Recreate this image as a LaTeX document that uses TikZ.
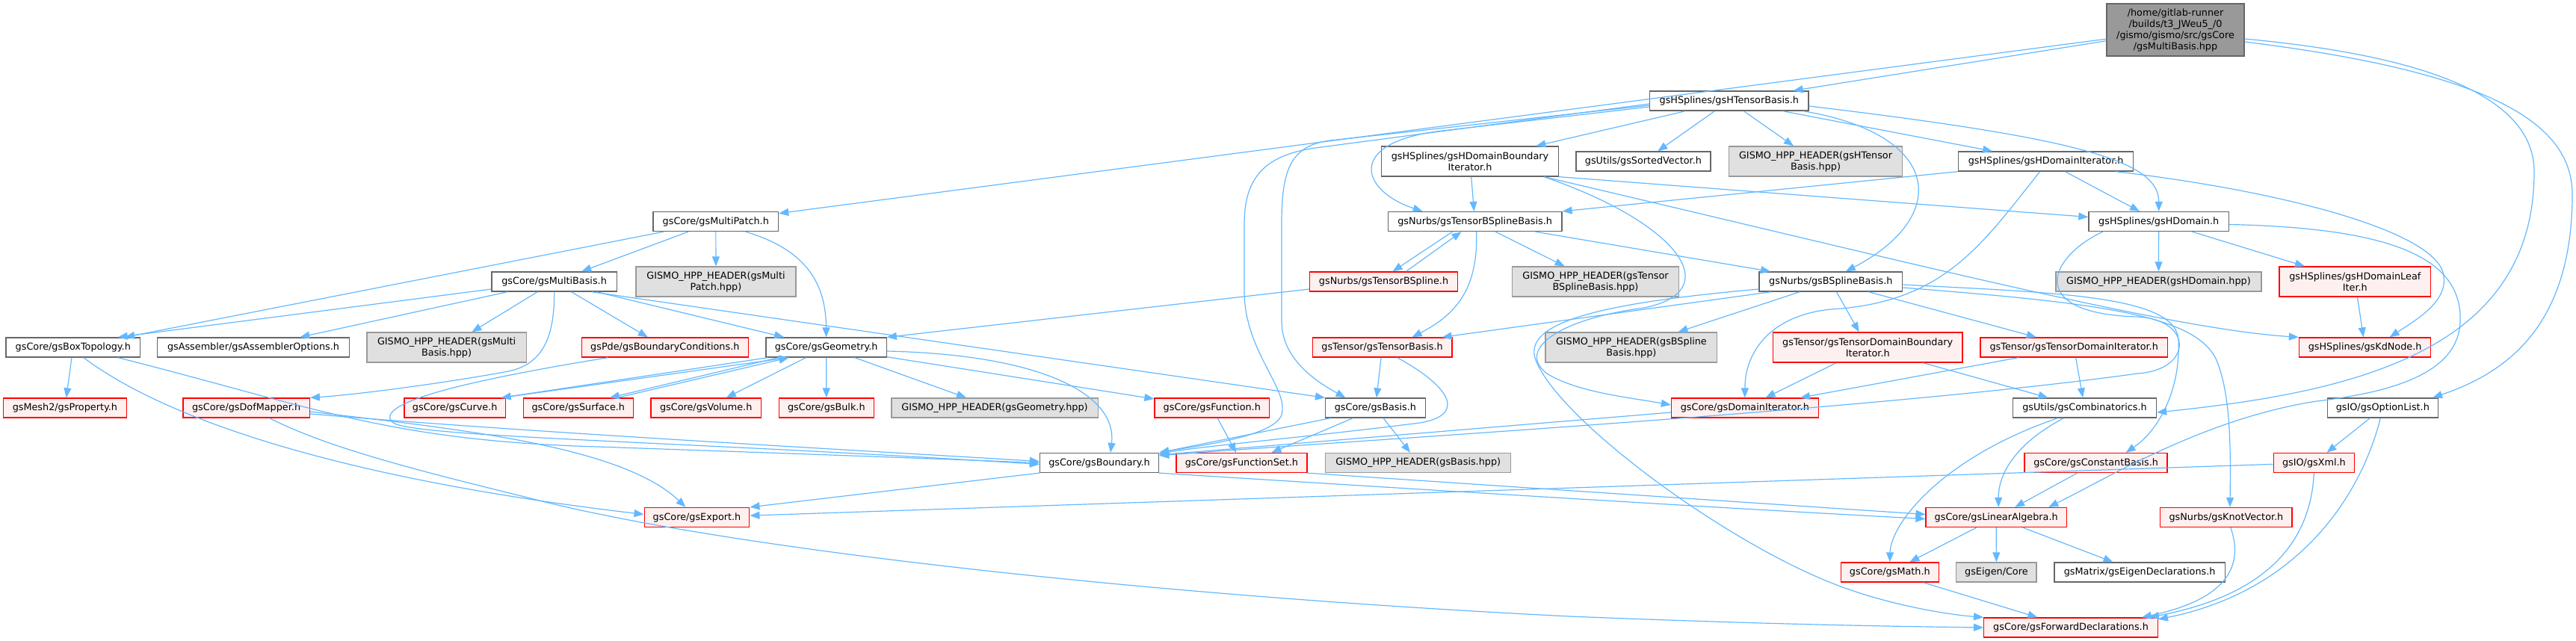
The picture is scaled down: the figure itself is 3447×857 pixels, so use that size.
\documentclass[tikz,border=0pt]{standalone}
\usepackage{fontspec}
\setmainfont{DejaVu Sans}
\usetikzlibrary{arrows.meta}
\definecolor{edgec}{HTML}{63B8FF}
\definecolor{bgray}{HTML}{666666}
\definecolor{lgray}{HTML}{999999}
\definecolor{hfill}{HTML}{E0E0E0}
\definecolor{rfill}{HTML}{FFF0F0}
\definecolor{rborder}{HTML}{FF0000}
\tikzset{
  base/.style={rectangle, inner sep=0pt, align=center, line width=1.3pt,
    font=\fontsize{12.8}{15}\selectfont},
  nnode/.style={base, draw=bgray, fill=white},
  rnode/.style={base, draw=rborder, fill=rfill},
  gnode/.style={base, draw=lgray, fill=hfill},
  rootnode/.style={base, draw=bgray, fill=lgray},
  lnk/.style={draw=edgec, line width=1.2pt, -{Triangle[length=13pt,width=10pt]}}
}
\begin{document}
\begin{tikzpicture}[x=1pt,y=-1pt]
\useasboundingbox (0,0) rectangle (3447,857);
% nodes
\node[rootnode, minimum width=184pt, minimum height=70pt] (root) at (2911,40) {/home/gitlab-runner\\/builds/t3\_JWeu5\_/0\\/gismo/gismo/src/gsCore\\/gsMultiBasis.hpp};
\node[nnode, minimum width=212.5pt, minimum height=26pt] (htb) at (2313.8,135) {gsHSplines/gsHTensorBasis.h};
\node[nnode, minimum width=236.7pt, minimum height=40pt] (hdbi) at (1967,216) {gsHSplines/gsHDomainBoundary\\Iterator.h};
\node[nnode, minimum width=180pt, minimum height=26pt] (sortv) at (2198.9,216) {gsUtils/gsSortedVector.h};
\node[gnode, minimum width=232.3pt, minimum height=40pt] (htbhpp) at (2429.5,216) {GISMO\_HPP\_HEADER(gsHTensor\\Basis.hpp)};
\node[nnode, minimum width=233.8pt, minimum height=26pt] (hdi) at (2737.6,216) {gsHSplines/gsHDomainIterator.h};
\node[nnode, minimum width=167.6pt, minimum height=26pt] (mp) at (957.8,296.5) {gsCore/gsMultiPatch.h};
\node[nnode, minimum width=232.7pt, minimum height=26pt] (tbsb) at (1973.6,296.5) {gsNurbs/gsTensorBSplineBasis.h};
\node[nnode, minimum width=187.5pt, minimum height=26pt] (hdom) at (2888.7,296.5) {gsHSplines/gsHDomain.h};
\node[nnode, minimum width=167.2pt, minimum height=26pt] (mb) at (741.6,377) {gsCore/gsMultiBasis.h};
\node[gnode, minimum width=213.8pt, minimum height=40pt] (mphpp) at (958,377) {GISMO\_HPP\_HEADER(gsMulti\\Patch.hpp)};
\node[rnode, minimum width=197.9pt, minimum height=26pt] (tbs) at (1851.5,377) {gsNurbs/gsTensorBSpline.h};
\node[gnode, minimum width=222.7pt, minimum height=40pt] (tbsbhpp) at (2135,377) {GISMO\_HPP\_HEADER(gsTensor\\BSplineBasis.hpp)};
\node[nnode, minimum width=191.6pt, minimum height=26pt] (bsb) at (2449.8,377) {gsNurbs/gsBSplineBasis.h};
\node[gnode, minimum width=274.9pt, minimum height=26pt] (hdomhpp) at (2888.4,377) {GISMO\_HPP\_HEADER(gsHDomain.hpp)};
\node[rnode, minimum width=202.9pt, minimum height=40pt] (leaf) at (3151.3,377) {gsHSplines/gsHDomainLeaf\\Iter.h};
\node[nnode, minimum width=179.4pt, minimum height=26pt] (boxt) at (97.8,465) {gsCore/gsBoxTopology.h};
\node[nnode, minimum width=256.4pt, minimum height=26pt] (asm) at (339,465) {gsAssembler/gsAssemblerOptions.h};
\node[gnode, minimum width=213.4pt, minimum height=40pt] (mbhpp) at (597.6,465) {GISMO\_HPP\_HEADER(gsMulti\\Basis.hpp)};
\node[rnode, minimum width=223pt, minimum height=26pt] (bc) at (889.8,465) {gsPde/gsBoundaryConditions.h};
\node[nnode, minimum width=161.2pt, minimum height=26pt] (geo) at (1105.6,465) {gsCore/gsGeometry.h};
\node[rnode, minimum width=186.8pt, minimum height=26pt] (tb) at (1849.6,465) {gsTensor/gsTensorBasis.h};
\node[gnode, minimum width=229.8pt, minimum height=40pt] (bsbhpp) at (2182.9,465) {GISMO\_HPP\_HEADER(gsBSpline\\Basis.hpp)};
\node[rnode, minimum width=253.4pt, minimum height=40pt] (tdbi) at (2499.2,465) {gsTensor/gsTensorDomainBoundary\\Iterator.h};
\node[rnode, minimum width=250.5pt, minimum height=26pt] (tdi) at (2775.2,465) {gsTensor/gsTensorDomainIterator.h};
\node[rnode, minimum width=176.3pt, minimum height=26pt] (kd) at (3164.6,465) {gsHSplines/gsKdNode.h};
\node[rnode, minimum width=165pt, minimum height=26pt] (prop) at (86.9,546) {gsMesh2/gsProperty.h};
\node[rnode, minimum width=169.4pt, minimum height=26pt] (dof) at (329.6,546) {gsCore/gsDofMapper.h};
\node[rnode, minimum width=135.7pt, minimum height=26pt] (curve) at (608.7,546) {gsCore/gsCurve.h};
\node[rnode, minimum width=147.2pt, minimum height=26pt] (surf) at (773.8,546) {gsCore/gsSurface.h};
\node[rnode, minimum width=147.2pt, minimum height=26pt] (vol) at (944.7,546) {gsCore/gsVolume.h};
\node[rnode, minimum width=126.8pt, minimum height=26pt] (bulk) at (1105.8,546) {gsCore/gsBulk.h};
\node[gnode, minimum width=276.3pt, minimum height=26pt] (geohpp) at (1331,546) {GISMO\_HPP\_HEADER(gsGeometry.hpp)};
\node[rnode, minimum width=153.6pt, minimum height=26pt] (func) at (1621.8,546) {gsCore/gsFunction.h};
\node[nnode, minimum width=133.6pt, minimum height=26pt] (basis) at (1840.4,546) {gsCore/gsBasis.h};
\node[rnode, minimum width=196.7pt, minimum height=26pt] (domit) at (2334.8,546) {gsCore/gsDomainIterator.h};
\node[nnode, minimum width=192pt, minimum height=26pt] (comb) at (2789.5,546) {gsUtils/gsCombinatorics.h};
\node[nnode, minimum width=148.2pt, minimum height=26pt] (opt) at (3188.3,546) {gsIO/gsOptionList.h};
\node[nnode, minimum width=159.1pt, minimum height=26pt] (bnd) at (1471,619.5) {gsCore/gsBoundary.h};
\node[rnode, minimum width=174.9pt, minimum height=26pt] (fset) at (1661.4,619.5) {gsCore/gsFunctionSet.h};
\node[gnode, minimum width=248.2pt, minimum height=26pt] (basishpp) at (1897.7,619.5) {GISMO\_HPP\_HEADER(gsBasis.hpp)};
\node[rnode, minimum width=191pt, minimum height=26pt] (cb) at (2804.6,619.5) {gsCore/gsConstantBasis.h};
\node[rnode, minimum width=108.2pt, minimum height=26pt] (xml) at (3096.4,619.5) {gsIO/gsXml.h};
\node[rnode, minimum width=140.6pt, minimum height=26pt] (exp) at (932.5,692.5) {gsCore/gsExport.h};
\node[rnode, minimum width=188.3pt, minimum height=26pt] (la) at (2671.2,692.5) {gsCore/gsLinearAlgebra.h};
\node[rnode, minimum width=176.3pt, minimum height=26pt] (kv) at (2978.9,692.5) {gsNurbs/gsKnotVector.h};
\node[rnode, minimum width=131.3pt, minimum height=26pt] (math) at (2528.8,766) {gsCore/gsMath.h};
\node[gnode, minimum width=107.3pt, minimum height=26pt] (eig) at (2671.4,766) {gsEigen/Core};
\node[nnode, minimum width=228.2pt, minimum height=26pt] (eigd) at (2863.1,766) {gsMatrix/gsEigenDeclarations.h};
\node[rnode, minimum width=232.6pt, minimum height=26pt] (fwd) at (2771,840) {gsCore/gsForwardDeclarations.h};

% root edges
\draw[lnk] (root) -- (htb);
\draw[lnk] (root) -- (mp);
\draw[lnk] ([yshift=-12]root.east) .. controls (3250,75) and (3391,130) .. (3391,230) .. controls (3391,470) and (3150,525) .. ([yshift=-6]comb.east);
\draw[lnk] ([yshift=-16]root.east) .. controls (3320,95) and (3442,160) .. (3442,260) .. controls (3442,440) and (3350,500) .. ([xshift=-8]opt.north east);
% htb edges
\draw[lnk] (htb) -- (hdbi);
\draw[lnk] (htb) -- (sortv);
\draw[lnk] (htb) -- (htbhpp);
\draw[lnk] (htb) -- (hdi);
\draw[lnk] ([yshift=-7]htb.east) .. controls (2780,185) and (2889,215) .. (hdom.north);
\draw[lnk] ([xshift=-8]htb.south east) .. controls (2600,180) and (2610,290) .. ([xshift=20]bsb.north);
\draw[lnk] ([yshift=-8]htb.west) -- (1930,175) .. controls (1800,190) and (1820,255) .. ([xshift=-70]tbsb.north);
\draw[lnk] ([yshift=-6]htb.west) -- (1780,188) .. controls (1725,195) and (1715,230) .. (1715,300) -- (1715,430) .. controls (1715,480) and (1760,510) .. ([xshift=-40]basis.north);
\draw[lnk] ([yshift=-4]htb.west) -- (1760,198) .. controls (1690,208) and (1665,240) .. (1665,300) -- (1665,390) .. controls (1665,470) and (1725,520) .. (1715,555) .. controls (1705,585) and (1600,597) .. (bnd.north east);
% hdbi edges
\draw[lnk] (hdbi) -- (tbsb);
\draw[lnk] (hdbi.south east) -- ([yshift=6]hdom.west);
\draw[lnk] ([xshift=-20]hdbi.south east) .. controls (2550,350) and (2900,440) .. (kd.north west);
\draw[lnk] ([xshift=-20]hdbi.south east) .. controls (2250,300) and (2310,390) .. (2200,412) .. controls (2080,428) and (2030,470) .. (2070,500) .. controls (2110,525) and (2180,532) .. ([yshift=4]domit.west);
% hdi edges
\draw[lnk] (hdi.south west) -- (tbsb.north east);
\draw[lnk] (hdi) -- (hdom);
\draw[lnk] ([xshift=-8]hdi.south) .. controls (2650,330) and (2600,405) .. (2450,414) .. controls (2370,422) and (2335,470) .. (domit.north);
\draw[lnk] ([xshift=-24]hdi.south east) .. controls (3050,255) and (3265,310) .. (3270,370) .. controls (3275,405) and (3230,430) .. ([xshift=33]kd.north);
% hdom edges
\draw[lnk] (hdom) -- (hdomhpp);
\draw[lnk] (hdom) -- (leaf);
\draw[lnk] ([yshift=-4]hdom.east) .. controls (3200,305) and (3295,345) .. (3292,430) .. controls (3290,500) and (3200,525) .. (3100,537) .. controls (2950,560) and (2820,640) .. ([xshift=70]la.north);
\draw[lnk] ([xshift=-75]hdom.south) .. controls (2740,345) and (2710,420) .. (2860,424) .. controls (2935,428) and (2935,495) .. (2860,500) .. controls (2500,550) and (1800,590) .. ([yshift=-4]bnd.north east);
\draw[lnk] (leaf) -- (kd);
% mp edges
\draw[lnk] (mp) -- (boxt);
\draw[lnk] (mp) -- (mb);
\draw[lnk] (mp) -- (mphpp);
\draw[lnk] ([xshift=40]mp.south) .. controls (1080,335) and (1105,380) .. (geo.north);
% mb edges
\draw[lnk] ([yshift=-10]mb.west) -- ([xshift=60]boxt.north);
\draw[lnk] (mb) -- (asm);
\draw[lnk] (mb) -- (mbhpp);
\draw[lnk] (mb.south) .. controls (742,445) and (730,487) .. (680,497) .. controls (600,512) and (480,528) .. (dof.north east);
\draw[lnk] (mb) -- (bc);
\draw[lnk] (mb) -- (geo);
\draw[lnk] ([xshift=50]mb.south) -- (basis.north west);
% boxt edges
\draw[lnk] (boxt) -- (prop);
\draw[lnk] ([xshift=14]boxt.south) .. controls (220,560) and (450,640) .. ([yshift=4]exp.west);
\draw[lnk] ([xshift=60]boxt.south) .. controls (420,545) and (520,590) .. (800,598) .. controls (1000,605) and (1200,612) .. (bnd.west);
% dof edges
\draw[lnk] ([yshift=-5]dof.east) .. controls (600,573) and (830,595) .. ([xshift=-15]exp.north);
\draw[lnk] ([yshift=-8]dof.east) .. controls (700,578) and (1100,600) .. ([yshift=2]bnd.west);
\draw[lnk] ([xshift=31]dof.south) .. controls (440,600) and (560,630) .. (710,667) .. controls (950,730) and (1500,795) .. (2100,825) .. controls (2350,835) and (2500,838) .. (fwd.west);
% bc
\draw[lnk] ([xshift=-76]bc.south) .. controls (620,510) and (500,540) .. (525,565) .. controls (545,585) and (900,590) .. ([yshift=-2]bnd.west);
% geo edges
\draw[lnk] ([xshift=-78]geo.south) -- ([xshift=62]curve.north);
\draw[lnk] ([xshift=-6]curve.north east) -- ([xshift=-50]geo.south);
\draw[lnk] ([xshift=-64]geo.south) -- ([xshift=42]surf.north);
\draw[lnk] ([xshift=52]surf.north) -- ([xshift=-50]geo.south);
\draw[lnk] (geo) -- (vol);
\draw[lnk] (geo) -- (bulk);
\draw[lnk] (geo) -- (geohpp);
\draw[lnk] (geo) -- (func);
\draw[lnk] ([yshift=-5]geo.east) .. controls (1400,475) and (1495,530) .. ([xshift=15]bnd.north);
% tbs
\draw[lnk] ([xshift=30]tbs.north) -- ([xshift=-18]tbsb.south);
\draw[lnk] ([xshift=-30]tbsb.south) -- ([xshift=12]tbs.north);
\draw[lnk] ([yshift=-10]tbs.west) -- (geo.north east);
% tbsb
\draw[lnk] (tbsb) -- (tbsbhpp);
\draw[lnk] (tbsb) -- (bsb);
\draw[lnk] ([xshift=2]tbsb.south) .. controls (1978,385) and (1950,420) .. ([xshift=40]tb.north);
% bsb
\draw[lnk] ([xshift=-80]bsb.south) -- ([xshift=80]tb.north);
\draw[lnk] (bsb) -- (bsbhpp);
\draw[lnk] (bsb) -- (tdbi);
\draw[lnk] (bsb) -- (tdi);
\draw[lnk] ([yshift=-8]bsb.east) .. controls (2800,405) and (2935,420) .. (2965,480) .. controls (2985,525) and (2985,600) .. ([xshift=5]kv.north);
\draw[lnk] ([yshift=-4]bsb.east) .. controls (2750,392) and (2912,395) .. (2915,455) .. controls (2918,520) and (2890,575) .. ([xshift=40]cb.north);
\draw[lnk] ([yshift=-10]bsb.west) .. controls (2150,405) and (2035,430) .. (2055,482) .. controls (2085,560) and (2300,720) .. (2450,780) .. controls (2520,808) and (2600,822) .. (fwd.north west);
% tb
\draw[lnk] (tb) -- (basis);
\draw[lnk] ([xshift=20]tb.south) .. controls (1945,520) and (1960,556) .. (1900,566) .. controls (1750,585) and (1600,598) .. ([yshift=-2]bnd.north east);
% basis
\draw[lnk] ([xshift=-30]basis.south) -- ([xshift=40]fset.north);
\draw[lnk] ([xshift=-60]basis.south) -- (bnd.north east);
\draw[lnk] (basis) -- (basishpp);
% domit
\draw[lnk] ([yshift=-6]domit.west) -- ([yshift=-3]bnd.north east);
% func, fset, bnd
\draw[lnk] (func) -- (fset);
\draw[lnk] (fset.south east) -- ([yshift=4]la.west);
\draw[lnk] (bnd.south east) .. controls (1900,655) and (2300,680) .. ([yshift=-2]la.west);
\draw[lnk] (bnd.south west) -- (exp.north east);
\draw[lnk] (xml) -- (exp);
% tensor iterators
\draw[lnk] (tdbi) -- (domit);
\draw[lnk] (tdbi) -- (comb);
\draw[lnk] (tdi) -- (domit);
\draw[lnk] (tdi) -- (comb);
% comb, cb
\draw[lnk] ([xshift=-28]comb.south) .. controls (2700,592) and (2674,632) .. ([xshift=3]la.north);
\draw[lnk] ([xshift=-36]comb.south) .. controls (2600,612) and (2530,700) .. (math.north);
\draw[lnk] (cb) -- (la);
% la
\draw[lnk] (la) -- (math);
\draw[lnk] (la) -- (eig);
\draw[lnk] (la) -- (eigd);
\draw[lnk] (math) -- (fwd);
% right side
\draw[lnk] ([xshift=6]kv.south) .. controls (3000,750) and (2990,800) .. ([xshift=-22]fwd.north east);
\draw[lnk] (xml.south) .. controls (3092,720) and (3040,795) .. ([xshift=-12]fwd.north east);
\draw[lnk] ([xshift=-3]opt.south) .. controls (3160,660) and (3080,790) .. ([yshift=11]fwd.east);
\draw[lnk] (opt) -- (xml);
\end{tikzpicture}
\end{document}
